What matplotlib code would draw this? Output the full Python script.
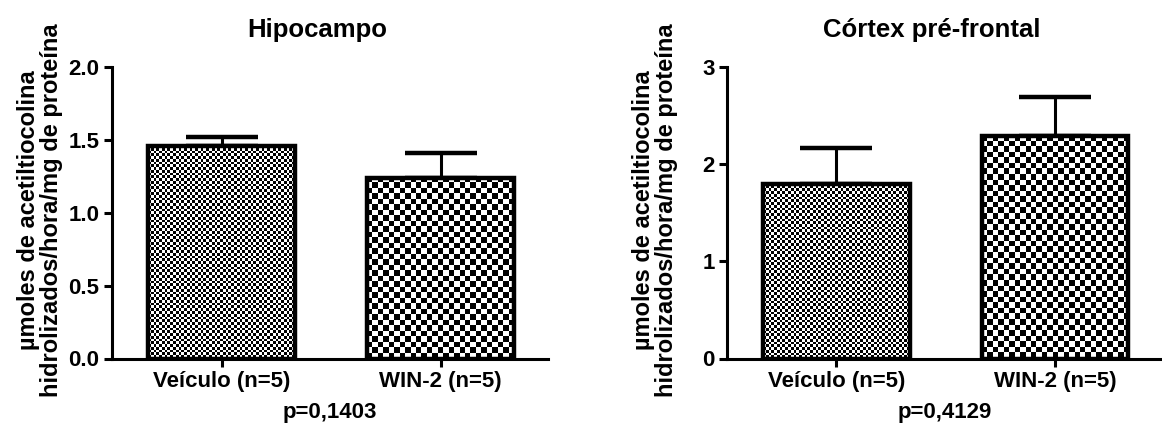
import numpy as np
import matplotlib.pyplot as plt

plt.rcParams['font.family'] = ['Liberation Sans', 'DejaVu Sans']
plt.rcParams['font.weight'] = 'bold'

grupos = ['Veículo (n=5)', 'WIN-2 (n=5)']

hip_media = [1.46, 1.24]
hip_epm = [0.06, 0.17]
hip_p = 'p=0,1403'

cpf_media = [1.80, 2.29]
cpf_epm = [0.37, 0.40]
cpf_p = 'p=0,4129'

ylabel = 'µmoles de acetiltiocolina\nhidrolizados/hora/mg de proteína'

# tamanho do quadriculado (px) de cada grupo
celula = [2.75, 5.5]

fig = plt.figure(figsize=(11.62, 4.28), dpi=100)
ax1 = fig.add_axes([112 / 1162, 69.5 / 428, 436 / 1162, 291.5 / 428])
ax2 = fig.add_axes([727 / 1162, 69.5 / 428, 435 / 1162, 291.5 / 428])


def quadriculado(ax, barra, cel):
    x0, y0 = barra.get_x(), barra.get_y()
    x1, y1 = x0 + barra.get_width(), y0 + barra.get_height()
    p0 = ax.transData.transform((x0, y0))
    p1 = ax.transData.transform((x1, y1))
    nx = max(1, int(round((p1[0] - p0[0]) / cel)))
    ny = max(1, int(round((p1[1] - p0[1]) / cel)))
    ii, jj = np.indices((ny, nx))
    img = ((ii + jj) % 2).astype(float)
    im = ax.imshow(img, extent=(x0, x1, y0, y1), cmap='gray', vmin=0, vmax=1,
                   interpolation='nearest', aspect='auto', zorder=2)
    im.set_clip_path(barra)


def painel(ax, titulo, media, epm, ymax, yticks, fmt, ptxt):
    x = np.arange(len(grupos))
    ax.set_xlim(-0.5, 1.49)
    ax.set_ylim(0, ymax)
    barras = ax.bar(x, media, width=0.67, facecolor='none', edgecolor='black',
                    linewidth=3.2, zorder=3)
    ax.errorbar(x, media, yerr=[[0, 0], epm], fmt='none', ecolor='black',
                elinewidth=2.2, capsize=26, capthick=3.2, zorder=1)
    for b, cel in zip(barras, celula):
        quadriculado(ax, b, cel)
    ax.set_xlim(-0.5, 1.49)
    ax.set_ylim(0, ymax)

    for s in ['top', 'right']:
        ax.spines[s].set_visible(False)
    for s in ['left', 'bottom']:
        ax.spines[s].set_linewidth(2.2)
    ax.tick_params(width=2.2, length=6, labelsize=16, pad=3)
    ax.set_xticks(x)
    ax.set_xticklabels(grupos)
    ax.set_yticks(yticks)
    ax.set_yticklabels([fmt % v for v in yticks])
    ax.set_xlabel(ptxt, fontsize=16, fontweight='bold', labelpad=7)
    ax.text(0.47, 1.103, titulo, transform=ax.transAxes, ha='center',
            va='baseline', fontsize=18.5, fontweight='bold')
    ax.text(-72 / 436, 0.51, ylabel, transform=ax.transAxes, rotation=90,
            ha='center', va='center', fontsize=17, fontweight='bold',
            linespacing=1.0, multialignment='center')


painel(ax1, 'Hipocampo', hip_media, hip_epm, 2.0,
       [0.0, 0.5, 1.0, 1.5, 2.0], '%.1f', hip_p)
painel(ax2, 'Córtex pré-frontal', cpf_media, cpf_epm, 3.0,
       [0, 1, 2, 3], '%d', cpf_p)

fig.savefig('out.png', dpi=100)
